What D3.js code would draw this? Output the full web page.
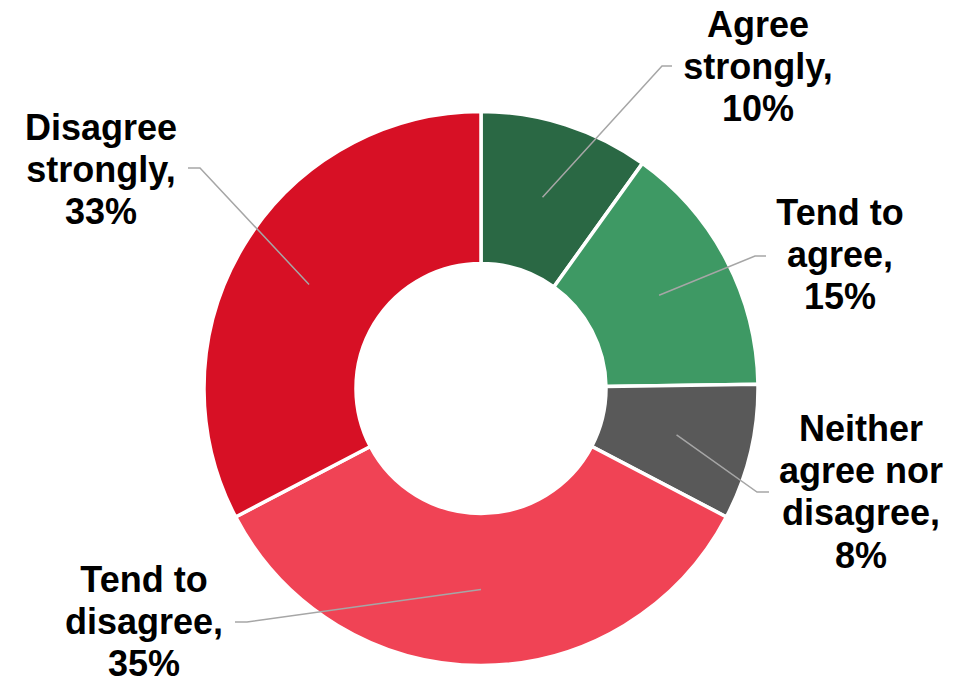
<!DOCTYPE html>
<html>
<head>
<meta charset="utf-8">
<script src="https://cdn.jsdelivr.net/npm/d3@7"></script>
<style>
  html, body { margin: 0; padding: 0; background: #ffffff; }
  svg { display: block; }
  .lbl { font-family: "Liberation Sans", Arial, sans-serif; font-weight: bold; font-size: 36px; fill: #000000; }
</style>
</head>
<body>
<svg id="chart" width="976" height="682"></svg>
<script>
// Survey response shares (percent), clockwise from 12 o'clock
const categories = ["Agree strongly", "Tend to agree", "Neither agree nor disagree", "Tend to disagree", "Disagree strongly"];
const values = [10, 15, 8, 35, 33];
const colors = ["#2A6844", "#3E9964", "#595959", "#F04355", "#D71025"];
// How many words of each category go on each label line
const wordsPerLine = [[1, 1], [2, 1], [1, 2, 1], [2, 1], [1, 1]];

// Label placement: text centre x, first baseline y, leader elbow and end
const labelX = [758, 840, 861, 144, 101];
const labelY = [37, 225, 441, 592, 140];
const elbowX = [662, 755, 757, 247, 200];
const elbowY = [66, 256, 492, 622, 168];
const lineEndX = [672, 766, 769, 235, 188];

const width = 976, height = 682;
const cx = 481, cy = 388.5;
const outerR = 277, innerR = 125;
const lineHeight = 42.2;

const svg = d3.select("#chart");
const g = svg.append("g").attr("transform", `translate(${cx},${cy})`);

const rows = categories.map((c, i) => ({ name: c, value: values[i], color: colors[i], i }));

const pie = d3.pie().value(d => d.value).sort(null);
const arc = d3.arc().innerRadius(innerR).outerRadius(outerR);
const midArc = d3.arc().innerRadius(innerR + 1.75).outerRadius(outerR - 1.75);

const arcs = pie(rows);

g.selectAll("path.slice")
  .data(arcs)
  .join("path")
  .attr("class", "slice")
  .attr("d", arc)
  .attr("fill", d => d.data.color)
  .attr("stroke", "#ffffff")
  .attr("stroke-width", 3.5)
  .attr("stroke-linejoin", "miter");

// Leader lines from each slice centroid to its label
svg.selectAll("polyline.leader")
  .data(arcs)
  .join("polyline")
  .attr("class", "leader")
  .attr("fill", "none")
  .attr("stroke", "#A6A6A6")
  .attr("stroke-width", 1.5)
  .attr("points", d => {
    const i = d.data.i;
    const [x0, y0] = midArc.centroid(d);
    return [[cx + x0, cy + y0], [elbowX[i], elbowY[i]], [lineEndX[i], elbowY[i]]]
      .map(p => p.join(",")).join(" ");
  });

// Wrapped labels: category words split over lines, then the percentage
function labelLines(d) {
  const words = d.name.split(" ");
  const lines = [];
  let k = 0;
  wordsPerLine[d.i].forEach(n => {
    lines.push(words.slice(k, k + n).join(" "));
    k += n;
  });
  lines[lines.length - 1] += ",";
  lines.push(d.value + "%");
  return lines;
}

const labels = svg.selectAll("text.lbl")
  .data(rows)
  .join("text")
  .attr("class", "lbl")
  .attr("text-anchor", "middle");

labels.each(function(d) {
  const t = d3.select(this);
  labelLines(d).forEach((ln, j) => {
    t.append("tspan")
      .attr("x", labelX[d.i])
      .attr("y", labelY[d.i] + j * lineHeight)
      .text(ln);
  });
});
</script>
</body>
</html>
